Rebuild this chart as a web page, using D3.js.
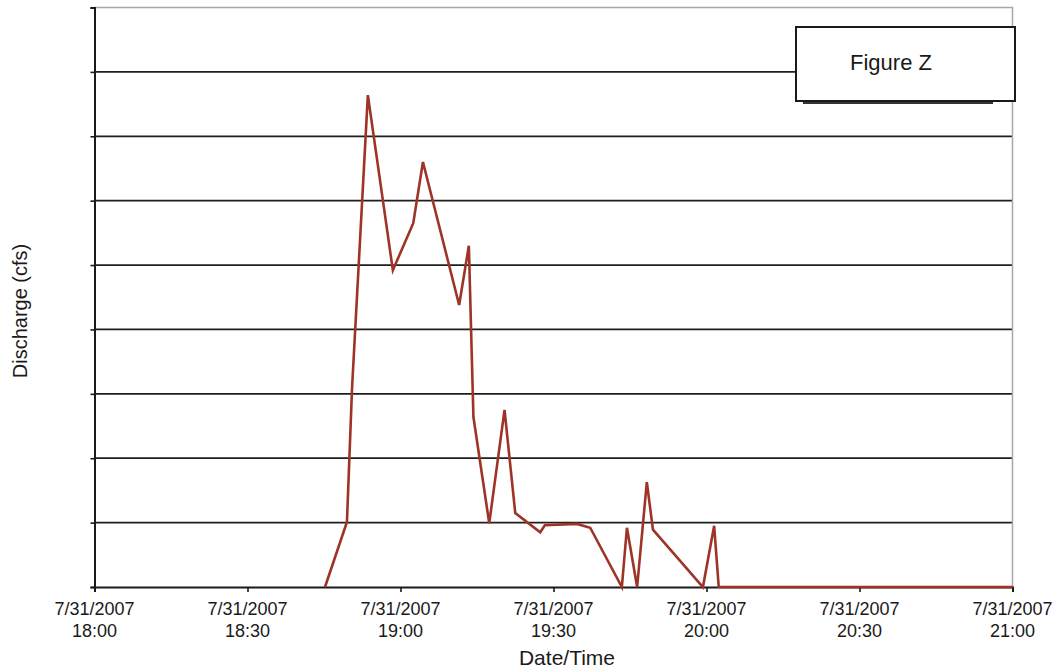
<!DOCTYPE html>
<html>
<head>
<meta charset="utf-8">
<script src="https://cdn.jsdelivr.net/npm/d3@7"></script>
<style>
  html, body { margin: 0; padding: 0; background: #fff; }
  svg { display: block; font-family: "Liberation Sans", Arial, sans-serif; }
</style>
</head>
<body>
<svg id="chart" width="1063" height="669"></svg>
<script>
// ---- data ----
const times = ["18:45:12","18:49:30","18:50:30","18:53:36","18:58:30","19:02:30","19:04:24",
  "19:11:30","19:13:24","19:14:18","19:17:24","19:20:24","19:22:30","19:27:24","19:28:18",
  "19:34:36","19:37:12","19:43:24","19:44:24","19:46:24","19:48:18","19:49:30","19:59:18",
  "20:01:30","20:02:24","21:00:00"];
const discharge = [0,1.01,3.09,7.64,4.92,5.65,6.60,4.38,5.30,2.64,0.99,2.75,1.15,0.85,0.96,
  0.98,0.92,0,0.92,0,1.63,0.89,0,0.95,0,0];
const xTickTimes = ["18:00","18:30","19:00","19:30","20:00","20:30","21:00"];
const yTickValues = [0,1,2,3,4,5,6,7,8,9];
const dateLabel = "7/31/2007";
const xTitle = "Date/Time";
const yTitle = "Discharge (cfs)";
const legendText = "Figure Z";

// ---- layout ----
const parse = d3.timeParse("%Y-%m-%d %H:%M:%S");
const toDate = t => parse("2007-07-31 " + (t.length === 5 ? t + ":00" : t));
const data = times.map((t, i) => ({ t: toDate(t), v: discharge[i] }));

const L = 94.5, R = 1012.5, T = 7.5, B = 587;
const svg = d3.select("#chart");
const x = d3.scaleTime().domain([toDate("18:00"), toDate("21:00")]).range([L, R]);
const y = d3.scaleLinear().domain([0, 9]).range([B, T]);

// gridlines
svg.append("g").selectAll("line").data(yTickValues.filter(v => v > 0 && v < 9)).join("line")
  .attr("x1", L).attr("x2", R).attr("y1", d => y(d)).attr("y2", d => y(d))
  .attr("stroke", "#1e1e1e").attr("stroke-width", 1.8);

// plot border (top, right)
svg.append("path")
  .attr("d", `M${L},${y(9)}H${R}V${B}`)
  .attr("fill", "none").attr("stroke", "#a8a8a8").attr("stroke-width", 1.5);

// x axis
const xAxis = d3.axisBottom(x).tickValues(xTickTimes.map(toDate)).tickSize(5).tickFormat("");
const gx = svg.append("g").attr("transform", `translate(0,${B})`).call(xAxis);
gx.select(".domain").attr("stroke", "#1a1a1a").attr("stroke-width", 2);
gx.selectAll(".tick line").attr("stroke", "#1a1a1a").attr("stroke-width", 1.6);

// x tick labels (two lines)
const lab = svg.append("g").selectAll("text").data(xTickTimes).join("text")
  .attr("x", d => x(toDate(d))).attr("y", 615)
  .attr("text-anchor", "middle").attr("font-size", 18).attr("fill", "#1a1a1a");
lab.append("tspan").attr("x", d => x(toDate(d))).text(dateLabel);
lab.append("tspan").attr("x", d => x(toDate(d))).attr("dy", 22).text(d => d);

// y axis
const yAxis = d3.axisLeft(y).tickValues(yTickValues).tickSize(4).tickFormat("");
const gy = svg.append("g").attr("transform", `translate(${L},0)`).call(yAxis);
gy.select(".domain").attr("stroke", "#1a1a1a").attr("stroke-width", 2);
gy.selectAll(".tick line").attr("stroke", "#1a1a1a").attr("stroke-width", 1.6);

// series line
svg.append("path").datum(data)
  .attr("d", d3.line().x(d => x(d.t)).y(d => y(d.v)))
  .attr("fill", "none").attr("stroke", "#9e3427").attr("stroke-width", 2.6)
  .attr("stroke-linejoin", "miter");

// axis titles
svg.append("text").attr("x", 567).attr("y", 665)
  .attr("text-anchor", "middle").attr("font-size", 21).attr("fill", "#1a1a1a").text(xTitle);
svg.append("text").attr("transform", `translate(27,311) rotate(-90)`)
  .attr("text-anchor", "middle").attr("font-size", 20).attr("fill", "#1a1a1a").text(yTitle);

// legend box
svg.append("line").attr("x1", 803).attr("x2", 993).attr("y1", 102.5).attr("y2", 102.5)
  .attr("stroke", "#333").attr("stroke-width", 3);
svg.append("rect").attr("x", 796).attr("y", 27).attr("width", 219).attr("height", 74)
  .attr("fill", "#fff").attr("stroke", "#1a1a1a").attr("stroke-width", 2);
svg.append("text").attr("x", 891).attr("y", 70).attr("text-anchor", "middle")
  .attr("font-size", 22).attr("fill", "#1a1a1a").text(legendText);
</script>
</body>
</html>
